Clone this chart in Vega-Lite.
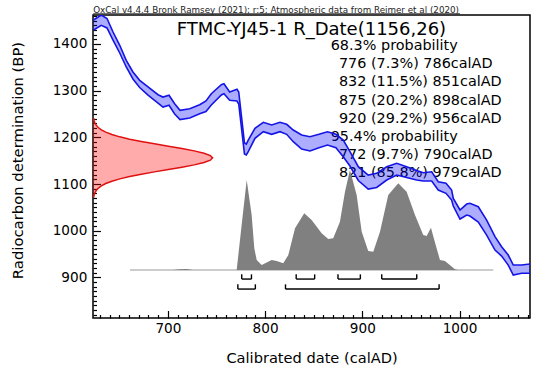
{
  "$schema": "https://vega.github.io/schema/vega-lite/v6.json",
  "width": 437,
  "height": 303,
  "autosize": "none",
  "padding": {"left": 93, "top": 15, "right": 16, "bottom": 49},
  "background": "white",
  "config": {
    "font": "DejaVu Sans",
    "view": {"stroke": "black", "strokeWidth": 1.5},
    "text": {"font": "DejaVu Sans", "color": "black"},
    "axis": {"labelOverlap": false, "labelFlush": false, "grid": false, "domain": false}
  },
  "datasets": {
    "prior": [
      {"bp":1071,"v":623.6},{"bp":1076,"v":624.1},{"bp":1081,"v":624.9},{"bp":1086,"v":626.3},{"bp":1091,"v":628.4},{"bp":1096,"v":631.6},{"bp":1101,"v":636.1},{"bp":1106,"v":642.4},{"bp":1111,"v":650.5},{"bp":1116,"v":660.7},{"bp":1121,"v":672.7},{"bp":1126,"v":686.2},{"bp":1131,"v":700.5},{"bp":1136,"v":714.5},{"bp":1141,"v":727.1},{"bp":1146,"v":737.2},{"bp":1151,"v":743.7},{"bp":1156,"v":746.0},{"bp":1161,"v":743.7},{"bp":1166,"v":737.2},{"bp":1171,"v":727.1},{"bp":1176,"v":714.5},{"bp":1181,"v":700.5},{"bp":1186,"v":686.2},{"bp":1191,"v":672.7},{"bp":1196,"v":660.7},{"bp":1201,"v":650.5},{"bp":1206,"v":642.4},{"bp":1211,"v":636.1},{"bp":1216,"v":631.6},{"bp":1221,"v":628.4},{"bp":1226,"v":626.3},{"bp":1231,"v":624.9},{"bp":1236,"v":624.1},{"bp":1241,"v":623.6}
    ],
    "post": [
      {"year":661.1,"p":915.7},{"year":705,"p":915.7},{"year":712,"p":917.5},{"year":719,"p":918},{"year":726,"p":915.7},{"year":770.8,"p":915.7},{"year":775.9,"p":1012.1},{"year":781.1,"p":1108.5},{"year":786.2,"p":1033.5},{"year":788.9,"p":962.2},{"year":791.4,"p":937.2},{"year":796.5,"p":926.5},{"year":806.8,"p":937.2},{"year":811.9,"p":935.0},{"year":818.7,"p":930.1},{"year":823.9,"p":947.9},{"year":830.8,"p":1005.1},{"year":840.3,"p":1037.2},{"year":847.9,"p":1022.8},{"year":858.2,"p":994.3},{"year":865,"p":982.1},{"year":870.1,"p":983.6},{"year":877,"p":1019.2},{"year":882.2,"p":1083.5},{"year":887.3,"p":1130},{"year":894.2,"p":1076.4},{"year":899.4,"p":997.8},{"year":906.1,"p":956.4},{"year":911.3,"p":954.9},{"year":918.2,"p":997.8},{"year":926.7,"p":1076.4},{"year":937,"p":1101.5},{"year":945.6,"p":1083.5},{"year":954.2,"p":1033.5},{"year":962.7,"p":990.7},{"year":966.2,"p":988.6},{"year":970.6,"p":1006.3},{"year":975.5,"p":969.3},{"year":979.9,"p":937.2},{"year":985,"p":935},{"year":995.3,"p":917.2},{"year":998.4,"p":915.7},{"year":1034.7,"p":915.7}
    ],
    "cal": [
      {"year":623.5,"hi":1451.3,"lo":1429.9},{"year":631.5,"hi":1462.0,"lo":1439.9},{"year":637.4,"hi":1454.5,"lo":1434.2},{"year":643.6,"hi":1425.6,"lo":1408.4},{"year":650.5,"hi":1397.1,"lo":1380.6},{"year":657.2,"hi":1365.0,"lo":1350.6},{"year":664.1,"hi":1339.9,"lo":1324.9},{"year":671.0,"hi":1322.1,"lo":1306.7},{"year":679.6,"hi":1307.8,"lo":1290.6},{"year":689.9,"hi":1291.3,"lo":1273.5},{"year":695.0,"hi":1286.3,"lo":1264.9},{"year":701.2,"hi":1290.0,"lo":1268.6},{"year":707.0,"hi":1272.0,"lo":1249.9},{"year":712.5,"hi":1257.8,"lo":1238.1},{"year":722.5,"hi":1261.3,"lo":1241.3},{"year":732.7,"hi":1269.8,"lo":1250.6},{"year":739.2,"hi":1277.8,"lo":1255.3},{"year":744.7,"hi":1293.4,"lo":1269.2},{"year":755.0,"hi":1312.7,"lo":1290.6},{"year":757.7,"hi":1314.8,"lo":1293.4},{"year":763.6,"hi":1297.0,"lo":1279.3},{"year":771.1,"hi":1302.8,"lo":1277.8},{"year":772.9,"hi":1297.0,"lo":1271.3},{"year":778.8,"hi":1187.8,"lo":1164.2},{"year":780.7,"hi":1185.6,"lo":1162.1},{"year":782.7,"hi":1194.2,"lo":1169.2},{"year":789.6,"hi":1219.3,"lo":1197.9},{"year":798.2,"hi":1232.1,"lo":1212.0},{"year":806.8,"hi":1226.4,"lo":1206.4},{"year":815.3,"hi":1232.1,"lo":1212.0},{"year":822.2,"hi":1227.9,"lo":1206.4},{"year":829.0,"hi":1215.6,"lo":1190.6},{"year":837.6,"hi":1204.9,"lo":1174.9},{"year":846.2,"hi":1201.3,"lo":1170.7},{"year":855.4,"hi":1206.4,"lo":1177.7},{"year":864.2,"hi":1212.0,"lo":1183.5},{"year":872.9,"hi":1206.4,"lo":1177.7},{"year":880.4,"hi":1194.2,"lo":1158.4},{"year":887.3,"hi":1169.2,"lo":1138.5},{"year":895.9,"hi":1137.0,"lo":1107.5},{"year":906.1,"hi":1119.2,"lo":1089.2},{"year":914.8,"hi":1122.9,"lo":1092.5},{"year":925.1,"hi":1137.0,"lo":1108.5},{"year":935.4,"hi":1144.3,"lo":1119.2},{"year":945.6,"hi":1137.0,"lo":1113.9},{"year":955.9,"hi":1128.9,"lo":1108.5},{"year":962.7,"hi":1124.2,"lo":1106.4},{"year":971.4,"hi":1126.3,"lo":1106.4},{"year":978.1,"hi":1104.9,"lo":1087.1},{"year":986.1,"hi":1101.5,"lo":1080.0},{"year":991.9,"hi":1087.1,"lo":1065.7},{"year":993.6,"hi":1069.3,"lo":1052.8},{"year":1000.5,"hi":1044.3,"lo":1025.0},{"year":1007.4,"hi":1057.1,"lo":1033.5},{"year":1010.7,"hi":1058.6,"lo":1031.4},{"year":1019.3,"hi":1051.3,"lo":1018.6},{"year":1027.9,"hi":1022.8,"lo":990.7},{"year":1036.5,"hi":987.1,"lo":958.6},{"year":1043.3,"hi":965.6,"lo":945.7},{"year":1050.1,"hi":947.9,"lo":926.4},{"year":1055.3,"hi":926.4,"lo":905.0},{"year":1063.9,"hi":926.4,"lo":908.7},{"year":1072.5,"hi":928.6,"lo":908.7}
    ],
    "ranges": [
      {"level":"68.3","lo":776,"hi":786,"y":896.4,"yt":906.5},
      {"level":"68.3","lo":832,"hi":851,"y":896.4,"yt":906.5},
      {"level":"68.3","lo":875,"hi":898,"y":896.4,"yt":906.5},
      {"level":"68.3","lo":920,"hi":956,"y":896.4,"yt":906.5},
      {"level":"95.4","lo":772,"hi":790,"y":875.0,"yt":885.1},
      {"level":"95.4","lo":821,"hi":979,"y":875.0,"yt":885.1}
    ],
    "lines": [
      {"t":"68.3% probability","x":867.5,"y":1388.0},
      {"t":"776 (7.3%) 786calAD","x":876,"y":1348.8},
      {"t":"832 (11.5%) 851calAD","x":876,"y":1309.4},
      {"t":"875 (20.2%) 898calAD","x":876,"y":1270.2},
      {"t":"920 (29.2%) 956calAD","x":876,"y":1231.0},
      {"t":"95.4% probability","x":867.5,"y":1191.5},
      {"t":"772 (9.7%) 790calAD","x":876,"y":1153.4},
      {"t":"821 (85.8%) 979calAD","x":876,"y":1114.2}
    ]
  },
  "layer": [
    {
      "data": {"name": "prior"},
      "mark": {"type": "area", "orient": "horizontal", "fill": "#ff0000", "fillOpacity": 0.33},
      "encoding": {
        "y": {
          "field": "bp", "type": "quantitative",
          "scale": {"domain": [813, 1462], "nice": false, "zero": false},
          "axis": {
            "values": [820,830,840,850,860,870,880,890,900,910,920,930,940,950,960,970,980,990,1000,1010,1020,1030,1040,1050,1060,1070,1080,1090,1100,1110,1120,1130,1140,1150,1160,1170,1180,1190,1200,1210,1220,1230,1240,1250,1260,1270,1280,1290,1300,1310,1320,1330,1340,1350,1360,1370,1380,1390,1400,1410,1420,1430,1440,1450,1460],
            "tickCount": 200,
            "format": "d",
            "labelExpr": "datum.value % 100 === 0 ? datum.label : ''",
            "grid": false, "domain": false,
            "tickSize": {"condition": {"test": "datum.value % 100 === 0", "value": -7.5}, "value": -3.5},
            "tickColor": "black", "tickWidth": 1.2,
            "labelFontSize": 13.6, "labelColor": "black", "labelPadding": 13.7,
            "labelOverlap": false, "labelFlush": false,
            "title": "Radiocarbon determination (BP)",
            "titleFontSize": 14.8, "titleFontWeight": "normal", "titleColor": "black",
            "titleX": -70.5, "titleY": 145, "titleAngle": 270, "titleBaseline": "alphabetic", "titleAlign": "center"
          }
        },
        "x": {
          "field": "v", "type": "quantitative",
          "scale": {"domain": [623, 1072.5], "nice": false, "zero": false},
          "axis": {
            "values": [630,640,650,660,670,680,690,700,710,720,730,740,750,760,770,780,790,800,810,820,830,840,850,860,870,880,890,900,910,920,930,940,950,960,970,980,990,1000,1010,1020,1030,1040,1050,1060,1070],
            "tickCount": 200,
            "format": "d",
            "labelExpr": "datum.value % 100 === 0 ? datum.label : ''",
            "grid": false, "domain": false,
            "tickSize": {"condition": {"test": "datum.value % 100 === 0", "value": -7.5}, "value": -3.5},
            "tickColor": "black", "tickWidth": 1.2,
            "labelFontSize": 13.6, "labelColor": "black", "labelPadding": 10.8,
            "labelOverlap": false, "labelFlush": false,
            "title": "Calibrated date (calAD)",
            "titleFontSize": 14.6, "titleFontWeight": "normal", "titleColor": "black",
            "titleY": 44.5, "titleBaseline": "alphabetic"
          }
        },
        "x2": {"datum": 623}
      }
    },
    {
      "data": {"name": "prior"},
      "mark": {"type": "line", "color": "#e01010", "strokeWidth": 1.5},
      "encoding": {
        "x": {"field": "v", "type": "quantitative"},
        "y": {"field": "bp", "type": "quantitative"},
        "order": {"field": "bp", "type": "quantitative"}
      }
    },
    {
      "data": {"name": "lines"},
      "mark": {"type": "text", "align": "left", "baseline": "alphabetic", "fontSize": 14.4, "clip": false},
      "encoding": {
        "x": {"field": "x", "type": "quantitative"},
        "y": {"field": "y", "type": "quantitative"},
        "text": {"field": "t"}
      }
    },
    {
      "data": {"values": [{"t": "FTMC-YJ45-1 R_Date(1156,26)", "x": 847.7, "y": 1420.2}]},
      "mark": {"type": "text", "align": "center", "baseline": "alphabetic", "fontSize": 18},
      "encoding": {
        "x": {"field": "x", "type": "quantitative"},
        "y": {"field": "y", "type": "quantitative"},
        "text": {"field": "t"}
      }
    },
    {
      "data": {"values": [{"t": "OxCal v4.4.4 Bronk Ramsey (2021); r:5; Atmospheric data from Reimer et al (2020)", "x": 623.2, "y": 1466.7}]},
      "mark": {"type": "text", "align": "left", "baseline": "alphabetic", "fontSize": 8.75, "color": "#222222", "clip": false},
      "encoding": {
        "x": {"field": "x", "type": "quantitative"},
        "y": {"field": "y", "type": "quantitative"},
        "text": {"field": "t"}
      }
    },
    {
      "data": {"values": [{"a": 623.2, "b": 1000.5, "y": 1465.0}]},
      "mark": {"type": "rule", "color": "#333333", "strokeWidth": 0.8},
      "encoding": {
        "x": {"field": "a", "type": "quantitative"},
        "x2": {"field": "b"},
        "y": {"field": "y", "type": "quantitative"}
      }
    },
    {
      "data": {"values": [{"a": 661.1, "b": 1034.7, "y": 915.7}]},
      "mark": {"type": "rule", "color": "#bbbbbb", "strokeWidth": 1.5},
      "encoding": {
        "x": {"field": "a", "type": "quantitative"},
        "x2": {"field": "b"},
        "y": {"field": "y", "type": "quantitative"}
      }
    },
    {
      "data": {"name": "post"},
      "mark": {"type": "area", "fill": "#808080"},
      "encoding": {
        "x": {"field": "year", "type": "quantitative"},
        "y": {"field": "p", "type": "quantitative"},
        "y2": {"datum": 915.7}
      }
    },
    {
      "data": {"name": "ranges"},
      "mark": {"type": "rule", "color": "black", "strokeWidth": 1.4},
      "encoding": {
        "x": {"field": "lo", "type": "quantitative"},
        "x2": {"field": "hi"},
        "y": {"field": "y", "type": "quantitative"}
      }
    },
    {
      "data": {"name": "ranges"},
      "mark": {"type": "rule", "color": "black", "strokeWidth": 1.4},
      "encoding": {
        "x": {"field": "lo", "type": "quantitative"},
        "y": {"field": "y", "type": "quantitative"},
        "y2": {"field": "yt"}
      }
    },
    {
      "data": {"name": "ranges"},
      "mark": {"type": "rule", "color": "black", "strokeWidth": 1.4},
      "encoding": {
        "x": {"field": "hi", "type": "quantitative"},
        "y": {"field": "y", "type": "quantitative"},
        "y2": {"field": "yt"}
      }
    },
    {
      "data": {"name": "cal"},
      "mark": {"type": "area", "fill": "#0000ff", "fillOpacity": 0.32, "clip": true},
      "encoding": {
        "x": {"field": "year", "type": "quantitative"},
        "y": {"field": "hi", "type": "quantitative"},
        "y2": {"field": "lo"}
      }
    },
    {
      "data": {"name": "cal"},
      "mark": {"type": "line", "color": "#1414e6", "strokeWidth": 1.6, "clip": true},
      "encoding": {
        "x": {"field": "year", "type": "quantitative"},
        "y": {"field": "hi", "type": "quantitative"}
      }
    },
    {
      "data": {"name": "cal"},
      "mark": {"type": "line", "color": "#1414e6", "strokeWidth": 1.6, "clip": true},
      "encoding": {
        "x": {"field": "year", "type": "quantitative"},
        "y": {"field": "lo", "type": "quantitative"}
      }
    }
  ]
}
